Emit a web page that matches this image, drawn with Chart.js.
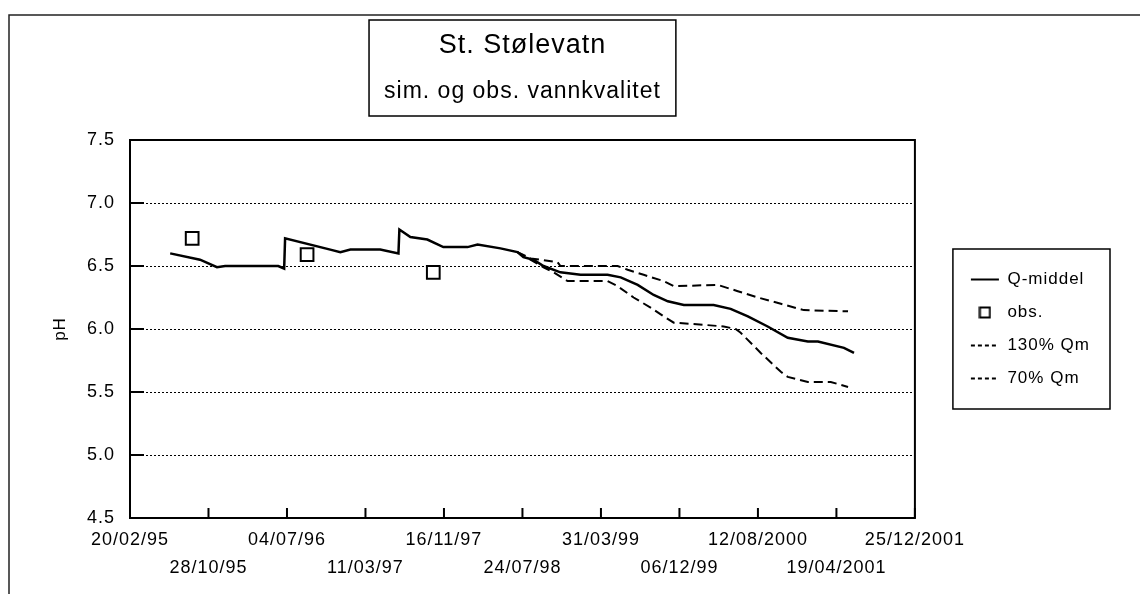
<!DOCTYPE html>
<html>
<head>
<meta charset="utf-8">
<title>St. Stølevatn</title>
<script src="https://cdn.jsdelivr.net/npm/chart.js@4.4.1/dist/chart.umd.min.js"></script>
<style>
  html, body { margin: 0; padding: 0; background: #fff; }
  #wrap { position: relative; width: 1140px; height: 594px; }
</style>
</head>
<body>
<div id="wrap"><canvas id="myChart" width="1140" height="594"></canvas></div>
<script>
// x values are day numbers (spreadsheet serials): 34750 = 20/02/95
const tickLabels = ['20/02/95', '28/10/95', '04/07/96', '11/03/97', '16/11/97', '24/07/98',
    '31/03/99', '06/12/99', '12/08/2000', '19/04/2001', '25/12/2001'];

const titleText = 'St. Stølevatn';
const subtitleText = 'sim. og obs. vannkvalitet';

const qDates = [34878, 34973, 35027, 35053, 35222, 35241, 35244, 35388, 35420, 35452,
    35547, 35605, 35608, 35643, 35697, 35748, 35825, 35857, 35930, 35984,
    36003, 36035, 36067, 36121, 36185, 36271, 36313, 36367, 36418, 36463,
    36514, 36609, 36663, 36718, 36781, 36845, 36909, 36941, 37024, 37056];
const qValues = [6.60, 6.55, 6.49, 6.50, 6.50, 6.48, 6.72, 6.63, 6.61, 6.63,
    6.63, 6.60, 6.79, 6.73, 6.71, 6.65, 6.65, 6.67, 6.64, 6.61,
    6.57, 6.55, 6.50, 6.45, 6.43, 6.43, 6.41, 6.35, 6.27, 6.22,
    6.19, 6.19, 6.16, 6.10, 6.02, 5.93, 5.90, 5.90, 5.85, 5.81];

const hiDates = [35984, 36026, 36112, 36121, 36303, 36335, 36386, 36450, 36482, 36622,
    36686, 36750, 36823, 36896, 37037];
const hiValues = [6.61, 6.56, 6.53, 6.50, 6.50, 6.47, 6.43, 6.38, 6.34, 6.35,
    6.30, 6.25, 6.20, 6.15, 6.14];

const loDates = [35984, 36067, 36099, 36144, 36271, 36303, 36354, 36408, 36450, 36482,
    36545, 36641, 36679, 36695, 36759, 36823, 36845, 36909, 36982, 37037];
const loValues = [6.61, 6.49, 6.45, 6.38, 6.38, 6.34, 6.25, 6.17, 6.10, 6.05,
    6.04, 6.02, 6.00, 5.97, 5.81, 5.66, 5.62, 5.58, 5.58, 5.54];

const obsDates = [34948, 35314, 35716];
const obsValues = [6.72, 6.59, 6.45];

function toPoints(xs, ys) {
    return xs.map(function (x, i) {
        return { x: x, y: ys[i] };
    });
}

// small square used as the legend symbol of obs.
const legendSquare = document.createElement('canvas');
legendSquare.width = 13;
legendSquare.height = 13;
const sq = legendSquare.getContext('2d');
sq.fillStyle = '#fff';
sq.fillRect(0, 0, 13, 13);
sq.strokeStyle = '#000';
sq.lineWidth = 2;
sq.strokeRect(1.5, 1.5, 10, 10);

const FONT = "'Liberation Sans', Arial, sans-serif";
Chart.defaults.font.family = FONT;
Chart.defaults.color = '#000';

const boxPlugin = {
    id: 'boxes',
    beforeUpdate(chart) {
        chart.ctx.letterSpacing = '1px';
    },
    beforeDraw(chart) {
        const ctx = chart.ctx;
        ctx.letterSpacing = '1px';
        ctx.save();
        ctx.strokeStyle = '#222';
        ctx.lineWidth = 1.5;
        ctx.strokeRect(9, 15, chart.width + 20, chart.height + 20);
        ctx.restore();
    },
    afterDraw(chart) {
        const { ctx, chartArea: a, scales } = chart;
        ctx.save();
        ctx.strokeStyle = '#000';
        ctx.lineWidth = 2;
        ctx.setLineDash([]);
        ctx.strokeRect(a.left, a.top, a.right - a.left, a.bottom - a.top);

        // inward tick marks
        ctx.beginPath();
        scales.x.ticks.forEach(function (t) {
            const px = scales.x.getPixelForValue(t.value);
            ctx.moveTo(px, a.bottom);
            ctx.lineTo(px, a.bottom - 10);
        });
        scales.y.ticks.forEach(function (t) {
            const py = scales.y.getPixelForValue(t.value);
            ctx.moveTo(a.left, py);
            ctx.lineTo(a.left + 14, py);
        });
        ctx.stroke();

        // box round the title
        const cx = (a.left + a.right) / 2;
        ctx.font = '23px ' + FONT;
        const w = ctx.measureText(subtitleText).width + 30;
        ctx.lineWidth = 1.5;
        ctx.strokeRect(cx - w / 2, 20, w, 96);

        // box round the legend
        const hb = chart.legend.legendHitBoxes;
        if (hb && hb.length) {
            const left = hb[0].left - 18;
            const right = Math.max.apply(null, hb.map(function (b) { return b.left + b.width; })) + 20;
            const last = hb[hb.length - 1];
            const top = hb[0].top - 22;
            const bottom = last.top + last.height + 22;
            ctx.strokeRect(left, top, right - left, bottom - top);
        }
        ctx.restore();
    }
};

const ctx = document.getElementById('myChart').getContext('2d');
const myChart = new Chart(ctx, {
    type: 'line',
    data: {
        datasets: [
            {
                label: 'Q-middel',
                data: toPoints(qDates, qValues),
                borderColor: '#000',
                borderWidth: 2.5,
                pointRadius: 0,
                tension: 0
            },
            {
                label: 'obs.',
                data: toPoints(obsDates, obsValues),
                showLine: false,
                order: -1,
                pointStyle: 'rect',
                pointRadius: 9,
                pointBorderWidth: 2,
                pointBorderColor: '#000',
                pointBackgroundColor: '#fff',
                borderColor: '#000',
                backgroundColor: '#fff'
            },
            {
                label: '130% Qm',
                data: toPoints(hiDates, hiValues),
                borderColor: '#000',
                borderWidth: 2,
                borderDash: [9, 5],
                pointRadius: 0,
                tension: 0
            },
            {
                label: '70% Qm',
                data: toPoints(loDates, loValues),
                borderColor: '#000',
                borderWidth: 2,
                borderDash: [9, 5],
                pointRadius: 0,
                tension: 0
            }
        ]
    },
    options: {
        responsive: false,
        animation: false,
        events: [],
        layout: { padding: { top: 0, left: 0, right: 40, bottom: 0 } },
        plugins: {
            title: {
                display: true,
                text: titleText,
                fullSize: false,
                color: '#000',
                font: { size: 27, weight: 'normal' },
                padding: { top: 29, bottom: 6 }
            },
            subtitle: {
                display: true,
                text: subtitleText,
                fullSize: false,
                color: '#000',
                font: { size: 23 },
                padding: { top: 10, bottom: 35 }
            },
            legend: {
                position: 'right',
                fullSize: false,
                labels: {
                    usePointStyle: true,
                    pointStyleWidth: 28,
                    padding: 16,
                    color: '#000',
                    font: { size: 17 },
                    sort: function (a, b) { return a.datasetIndex - b.datasetIndex; },
                    generateLabels: function (chart) {
                        const items = Chart.defaults.plugins.legend.labels.generateLabels(chart);
                        items.forEach(function (it) {
                            const ds = chart.data.datasets[it.datasetIndex];
                            if (ds.showLine === false) {
                                it.pointStyle = legendSquare;
                            } else {
                                it.pointStyle = 'line';
                                it.lineWidth = 2;
                                it.lineDash = ds.borderDash ? [4, 3] : [];
                            }
                        });
                        return items;
                    }
                }
            },
            tooltip: { enabled: false }
        },
        scales: {
            x: {
                type: 'linear',
                min: 34750,
                max: 37250,
                grid: { display: false, drawTicks: false },
                border: { display: false },
                ticks: {
                    stepSize: 250,
                    autoSkip: false,
                    maxRotation: 0,
                    padding: 8,
                    color: '#000',
                    font: { size: 18, lineHeight: '28px' },
                    callback: function (v, i) {
                        return i % 2 ? ['', tickLabels[i]] : tickLabels[i];
                    }
                },
                afterFit: function (s) { s.height = 76; }
            },
            y: {
                min: 4.5,
                max: 7.5,
                grid: { color: '#000', lineWidth: 1, drawTicks: false },
                border: { display: false, dash: [2, 2] },
                ticks: {
                    stepSize: 0.5,
                    padding: 15,
                    color: '#000',
                    font: { size: 18 },
                    callback: function (v) { return v.toFixed(1); }
                },
                title: {
                    display: true,
                    text: 'pH',
                    color: '#000',
                    font: { size: 17 },
                    padding: { top: 50, bottom: 0 }
                },
                afterFit: function (s) { s.width = 130; }
            },
            gap: {
                type: 'linear',
                position: 'right',
                grid: { display: false, drawTicks: false },
                border: { display: false },
                ticks: { display: false },
                afterFit: function (s) { s.width = 40; }
            }
        }
    },
    plugins: [boxPlugin]
});
</script>
</body>
</html>
